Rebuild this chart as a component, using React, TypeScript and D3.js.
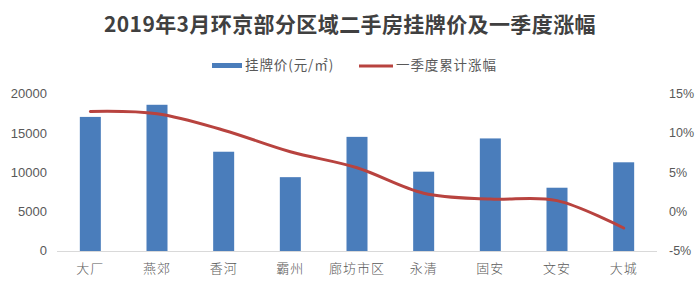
import React from "react";
import * as d3 from "d3";

const categories = ["大厂", "燕郊", "香河", "霸州", "廊坊市区", "永清", "固安", "文安", "大城"];
const prices = [17200, 18750, 12750, 9500, 14650, 10200, 14450, 8150, 11400];
const growth = [12.9, 12.6, 10.5, 7.75, 5.7, 2.45, 1.7, 1.5, -2.0];
const leftTicks = [0, 5000, 10000, 15000, 20000];
const rightTicks = [-5, 0, 5, 10, 15];
const title = "2019年3月环京部分区域二手房挂牌价及一季度涨幅";
const seriesNames = ["挂牌价(元/㎡)", "一季度累计涨幅"];

const W = 700;
const H = 288;
const BLUE = "#4a7dbb";
const RED = "#b8433f";
const TEXT = "#595959";
const CJK = "'Noto Sans CJK SC', 'Noto Sans', sans-serif";
const NUM = "'Liberation Sans', Arial, sans-serif";

export default function App() {
  const x = d3.scaleBand<string>().domain(categories).range([57, 657]).padding(0);
  const yL = d3.scaleLinear().domain([0, 20000]).range([251.5, 95]);
  const yR = d3.scaleLinear().domain([-5, 15]).range([251.5, 95]);
  const bw = x.bandwidth() * 0.315;
  const cx = (c: string) => (x(c) as number) + x.bandwidth() / 2;

  const line = d3
    .line<number>()
    .x((_, i) => cx(categories[i]))
    .y((d) => yR(d))
    .curve(d3.curveCatmullRom.alpha(0));

  return (
    <svg
      width={W}
      height={H}
      style={{ position: "absolute", left: 0, top: 0, background: "#fff" }}
    >
      <rect width={W} height={H} fill="#fff" />
      <text
        x={350}
        y={26}
        textAnchor="middle"
        dominantBaseline="middle"
        fontFamily={CJK}
        fontWeight="bold"
        fontSize={21}
        letterSpacing={0.4}
        fill="#404040"
      >
        {title}
      </text>

      {/* legend */}
      <rect x={212} y={63} width={30} height={5} fill={BLUE} />
      <text x={245} y={66} dominantBaseline="middle" fontFamily={CJK} fontSize={13.5} fill={TEXT} letterSpacing={0.9}>
        {seriesNames[0]}
      </text>
      <line x1={359} x2={393} y1={66} y2={66} stroke={RED} strokeWidth={3} />
      <text x={396} y={66} dominantBaseline="middle" fontFamily={CJK} fontSize={13.5} fill={TEXT} letterSpacing={0.9}>
        {seriesNames[1]}
      </text>

      {/* left axis labels */}
      {leftTicks.map((t) => (
        <text
          key={"l" + t}
          x={47}
          y={yL(t)}
          textAnchor="end"
          dominantBaseline="middle"
          fontFamily={NUM}
          fontSize={13}
          fill={TEXT}
        >
          {t}
        </text>
      ))}
      {/* right axis labels */}
      {rightTicks.map((t) => (
        <text
          key={"r" + t}
          x={669}
          y={yR(t)}
          textAnchor="start"
          dominantBaseline="middle"
          fontFamily={NUM}
          fontSize={12.5}
          fill={TEXT}
        >
          {t + "%"}
        </text>
      ))}

      {/* bars */}
      {categories.map((c, i) => (
        <rect
          key={c}
          x={cx(c) - bw / 2}
          y={yL(prices[i])}
          width={bw}
          height={yL(0) - yL(prices[i])}
          fill={BLUE}
        />
      ))}

      {/* baseline */}
      <line x1={57} x2={657} y1={251.5} y2={251.5} stroke="#d9d9d9" strokeWidth={1} />

      {/* growth line */}
      <path d={line(growth) || ""} fill="none" stroke={RED} strokeWidth={3} strokeLinecap="round" strokeLinejoin="round" />

      {/* category labels */}
      {categories.map((c) => (
        <text
          key={"c" + c}
          x={cx(c)}
          y={269}
          textAnchor="middle"
          dominantBaseline="middle"
          fontFamily={CJK}
          fontSize={13}
          fontWeight={300}
          letterSpacing={1}
          fill={TEXT}
        >
          {c}
        </text>
      ))}
    </svg>
  );
}
